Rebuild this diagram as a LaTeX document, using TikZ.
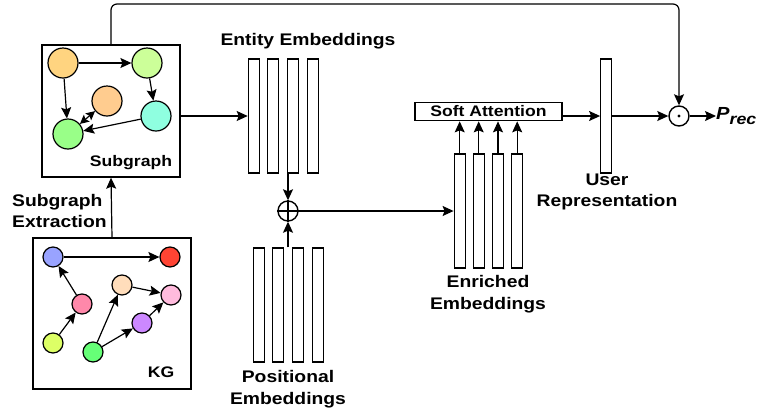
\documentclass[tikz,border=0pt]{standalone}
\usepackage{fontspec}
\setmainfont{Liberation Sans}[FakeStretch=1.15]
\usetikzlibrary{arrows.meta}
\definecolor{cA}{HTML}{FFD480}
\definecolor{cB}{HTML}{CCFF99}
\definecolor{cC}{HTML}{FFCC8F}
\definecolor{cD}{HTML}{8FFFE0}
\definecolor{cE}{HTML}{99FF88}
\definecolor{k1c}{HTML}{99A3FF}
\definecolor{k2c}{HTML}{FF4433}
\definecolor{k3c}{HTML}{FF88AA}
\definecolor{k4c}{HTML}{DDFF66}
\definecolor{k5c}{HTML}{FFDDBB}
\definecolor{k6c}{HTML}{FFBBDD}
\definecolor{k7c}{HTML}{CC88FF}
\definecolor{k8c}{HTML}{66FF77}
\tikzset{
  arr/.style={-{Stealth[length=11pt,width=10pt,inset=2pt]}, line width=1.2pt},
  dblarr/.style={{Stealth[length=9pt,width=9pt,inset=1.8pt]}-{Stealth[length=9pt,width=9pt,inset=1.8pt]}, line width=1.2pt},
  bar/.style={draw, line width=1.2pt, fill=white, minimum width=11pt, minimum height=114pt, inner sep=0pt},
  gnode/.style={circle, draw, line width=1.2pt, minimum size=30pt, inner sep=0pt},
  knode/.style={circle, draw, line width=1.2pt, minimum size=20pt, inner sep=0pt},
  opnode/.style={circle, draw, line width=1.4pt, minimum size=20pt, inner sep=0pt},
  lbl/.style={font=\fontsize{16.8}{21.5}\selectfont\bfseries, align=center, inner sep=0pt},
  inlbl/.style={font=\fontsize{15.3}{18}\selectfont\bfseries, inner sep=0pt},
  gbox/.style={draw, line width=1.4pt, inner sep=0pt},
  sabox/.style={draw, line width=1.2pt, minimum width=147pt, minimum height=18.5pt, inner sep=0pt, font=\fontsize{15.3}{18}\selectfont\bfseries},
}
\begin{document}
\begin{tikzpicture}[x=1pt,y=-1pt]
\useasboundingbox (0,0) rectangle (761,416);

% Subgraph box
\node[gbox, minimum width=138pt, minimum height=132pt] (sg) at (111,111) {};
\node[gnode, fill=cA] (a) at (63,63) {};
\node[gnode, fill=cB] (b) at (147,63) {};
\node[gnode, fill=cC] (c) at (107,101) {};
\node[gnode, fill=cD] (d) at (156,116) {};
\node[gnode, fill=cE] (e) at (68,134) {};
\draw[arr] (a) -- (b);
\draw[arr] (a) -- (e);
\draw[arr] (b) -- (d);
\draw[arr] (d) -- (e);
\draw[dblarr] (e) -- (c);
\node[inlbl] (sgl) at (131,163) {Subgraph};

% KG box
\node[gbox, minimum width=158pt, minimum height=151pt] (kg) at (112,313.5) {};
\node[knode, fill=k1c] (k1) at (53,257) {};
\node[knode, fill=k2c] (k2) at (170,257) {};
\node[knode, fill=k3c] (k3) at (82,304) {};
\node[knode, fill=k4c] (k4) at (53,343) {};
\node[knode, fill=k5c] (k5) at (122,285) {};
\node[knode, fill=k6c] (k6) at (171,295) {};
\node[knode, fill=k7c] (k7) at (142,323) {};
\node[knode, fill=k8c] (k8) at (93,352) {};
\draw[arr] (k1) -- (k2);
\draw[arr] (k3) -- (k1);
\draw[arr] (k4) -- (k3);
\draw[arr] (k8) -- (k5);
\draw[arr] (k5) -- (k6);
\draw[arr] (k8) -- (k7);
\draw[arr] (k7) -- (k6);
\node[inlbl] (kgl) at (161,372) {KG};

\draw[arr] (kg.north) -- (sg.south);
\node[lbl, align=left, anchor=west] (sgx) at (12,211) {Subgraph\\Extraction};

% Entity embeddings
\node[bar] (e1) at (253.8,116) {};
\node[bar] (e2) at (273.2,116) {};
\node[bar] (e3) at (293.2,116) {};
\node[bar] (e4) at (312.8,116) {};
\node[lbl] (el) at (308,41) {Entity Embeddings};
\draw[arr] (sg.east |- e1.west) -- (e1.west);

% Positional embeddings
\node[bar] (p1) at (258.8,305) {};
\node[bar] (p2) at (278.2,305) {};
\node[bar] (p3) at (298.2,305) {};
\node[bar] (p4) at (317.8,305) {};
\node[lbl] (pl) at (288,389) {Positional\\Embeddings};

% oplus
\node[opnode] (op) at (288,211) {};
\draw[line width=1.1pt] (op.north) -- (op.south) (op.west) -- (op.east);
\draw[arr] (op.north |- e3.south) -- (op.north);
\draw[arr] (op.south |- p1.north) -- (op.south);

% Enriched embeddings
\node[bar] (n1) at (459.7,211) {};
\node[bar] (n2) at (478.7,211) {};
\node[bar] (n3) at (498,211) {};
\node[bar] (n4) at (517.2,211) {};
\node[lbl] (nl) at (488,294) {Enriched\\Embeddings};
\draw[arr] (op.east) -- (n1.west);

% Soft attention
\node[sabox] (sa) at (488.5,111.5) {Soft Attention};
\foreach \i in {1,2,3,4} {
  \draw[arr] (n\i.north) -- (n\i.north |- sa.south);
}

% User representation
\node[bar] (u) at (606.2,116) {};
\node[lbl] (ul) at (607,192) {User\\Representation};
\draw[arr] (sa.east |- u.west) -- (u.west);

% odot
\node[opnode] (od) at (679,116) {};
\fill (od.center) circle (1.6pt);
\draw[arr] (u.east) -- (od.west);

% P_rec
\node[anchor=west, inner sep=0pt, font=\bfseries\itshape] (pr) at (716,116)
  {\fontsize{17.5}{20}\selectfont P\raisebox{-4.5pt}{\fontsize{15.5}{18}\selectfont rec}};
\draw[arr] (od.east) -- (pr.west);

% top connector
\coordinate (tp) at (679,4);
\draw[arr, rounded corners=6pt] (sg.north) |- (tp) -- (od.north);
\end{tikzpicture}
\end{document}
